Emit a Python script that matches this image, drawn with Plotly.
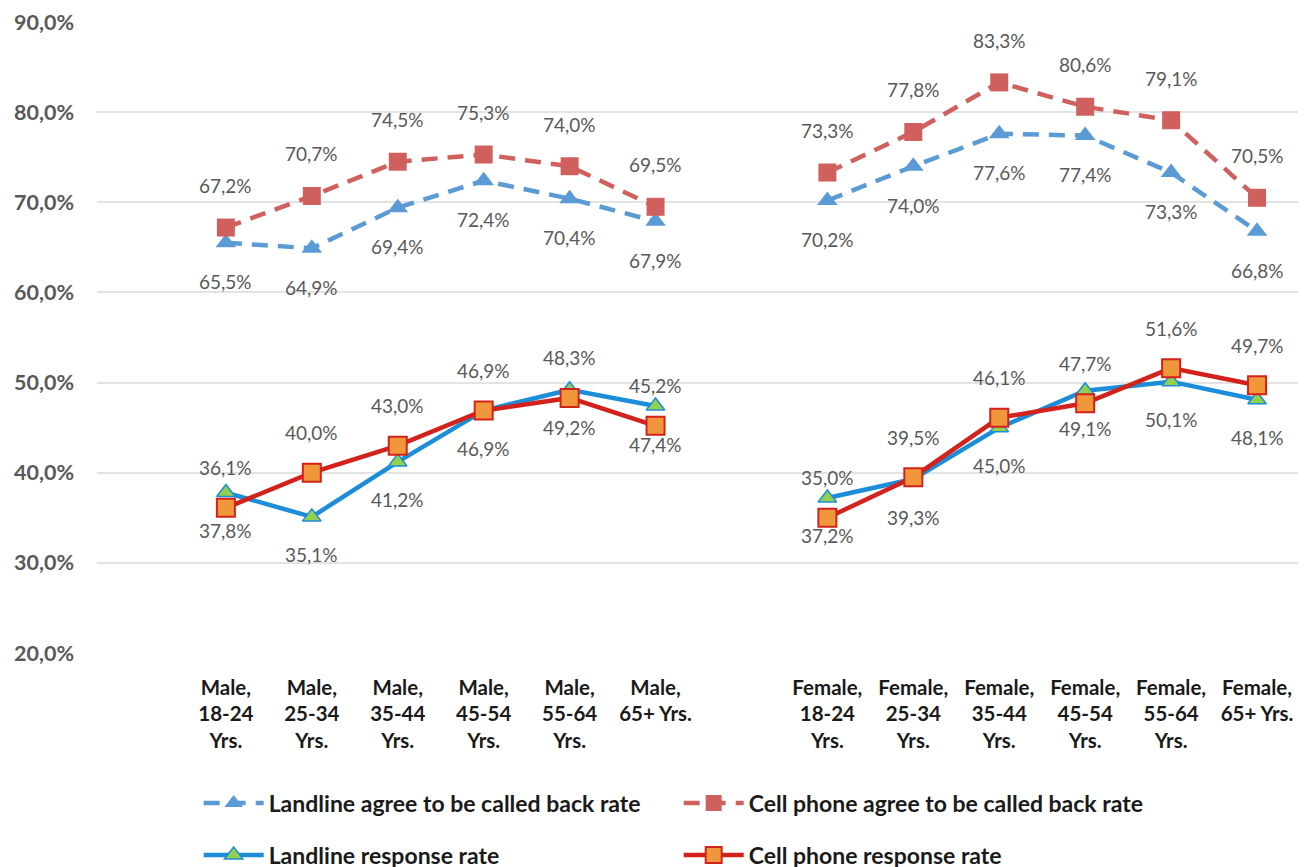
import plotly.graph_objects as go

# categories (slot 0 and slot 7 stay empty, like the Excel source)
categories = ["Male,<br>18-24<br>Yrs.", "Male,<br>25-34<br>Yrs.", "Male,<br>35-44<br>Yrs.",
              "Male,<br>45-54<br>Yrs.", "Male,<br>55-64<br>Yrs.", "Male,<br>65+ Yrs.",
              "Female,<br>18-24<br>Yrs.", "Female,<br>25-34<br>Yrs.", "Female,<br>35-44<br>Yrs.",
              "Female,<br>45-54<br>Yrs.", "Female,<br>55-64<br>Yrs.", "Female,<br>65+ Yrs."]
slots = [1, 2, 3, 4, 5, 6, 8, 9, 10, 11, 12, 13]

landline_agree = [65.5, 64.9, 69.4, 72.4, 70.4, 67.9, 70.2, 74.0, 77.6, 77.4, 73.3, 66.8]
cell_agree = [67.2, 70.7, 74.5, 75.3, 74.0, 69.5, 73.3, 77.8, 83.3, 80.6, 79.1, 70.5]
landline_resp = [37.8, 35.1, 41.2, 46.9, 49.2, 47.4, 37.2, 39.3, 45.0, 49.1, 50.1, 48.1]
cell_resp = [36.1, 40.0, 43.0, 46.9, 48.3, 45.2, 35.0, 39.5, 46.1, 47.7, 51.6, 49.7]

yticks = [20, 30, 40, 50, 60, 70, 80, 90]


def pct(v):
    return f"{v:.1f}%".replace(".", ",")


def segs(vals):
    # split male / female groups so the line is broken at the empty slot
    xs = slots[:6] + [None] + slots[6:]
    ys = vals[:6] + [None] + vals[6:]
    return xs, ys


fig = go.Figure()

series = [
    ("Landline agree to be called back rate", landline_agree,
     dict(color="#5B9BD5", width=4.5, dash="16px,10px"),
     dict(symbol="triangle-up", size=18, color="#5B9BD5"), "legend"),
    ("Cell phone agree to be called back rate", cell_agree,
     dict(color="#D0605D", width=4.5, dash="16px,10px"),
     dict(symbol="square", size=18, color="#D0605D"), "legend"),
    ("Landline response rate", landline_resp,
     dict(color="#1C8DD8", width=4.5),
     dict(symbol="triangle-up", size=16, color="#92D050",
          line=dict(color="#1C8DD8", width=1.5)), "legend2"),
    ("Cell phone response rate", cell_resp,
     dict(color="#D3221C", width=4.5),
     dict(symbol="square", size=18, color="#F0963B",
          line=dict(color="#D3221C", width=2)), "legend2"),
]

for name, vals, line, marker, leg in series:
    xs, ys = segs(vals)
    fig.add_trace(go.Scatter(x=xs, y=ys, mode="lines+markers", name=name,
                             line=line, marker=marker, legend=leg,
                             connectgaps=False, hoverinfo="skip"))

# data labels: cell phone above, landline below
label_font = dict(family="Lato, Open Sans, sans-serif", size=19, color="#595959")
for vals, shift in [(landline_agree, -39), (cell_agree, 42),
                    (landline_resp, -38), (cell_resp, 40)]:
    for x, v in zip(slots, vals):
        fig.add_annotation(x=x, y=v, text=pct(v), showarrow=False,
                           yshift=shift, font=label_font)

legend_common = dict(orientation="h", xref="container", yref="container",
                     x=0.146, xanchor="left", yanchor="middle",
                     entrywidth=405, entrywidthmode="pixels", itemwidth=60,
                     font=dict(size=23, color="#1a1a1a", weight="bold"),
                     bgcolor="rgba(0,0,0,0)")

fig.update_layout(
    width=1306, height=867,
    paper_bgcolor="white", plot_bgcolor="white",
    margin=dict(l=89, r=14, t=14, b=222, autoexpand=False),
    font=dict(family="Lato, Open Sans, sans-serif"),
    xaxis=dict(range=[-0.5, 13.5], tickvals=slots, ticktext=categories,
               showgrid=False, zeroline=False, showline=False, ticks="",
               ticklabelstandoff=20, automargin=False, ticklabeloverflow="allow",
               tickfont=dict(size=20.5, color="#1a1a1a", weight="bold")),
    yaxis=dict(range=[20, 90], tickvals=yticks,
               ticktext=[pct(t) for t in yticks],
               showgrid=True, gridcolor="#E3E3E3", gridwidth=2,
               zeroline=False, showline=False, ticks="",
               ticklabelstandoff=22, automargin=False,
               tickfont=dict(size=21.5, color="#595959", weight="bold")),
    legend=dict(y=1 - 795 / 867, **legend_common),
    legend2=dict(y=1 - 847 / 867, **legend_common),
)

fig.write_html("out.html")
